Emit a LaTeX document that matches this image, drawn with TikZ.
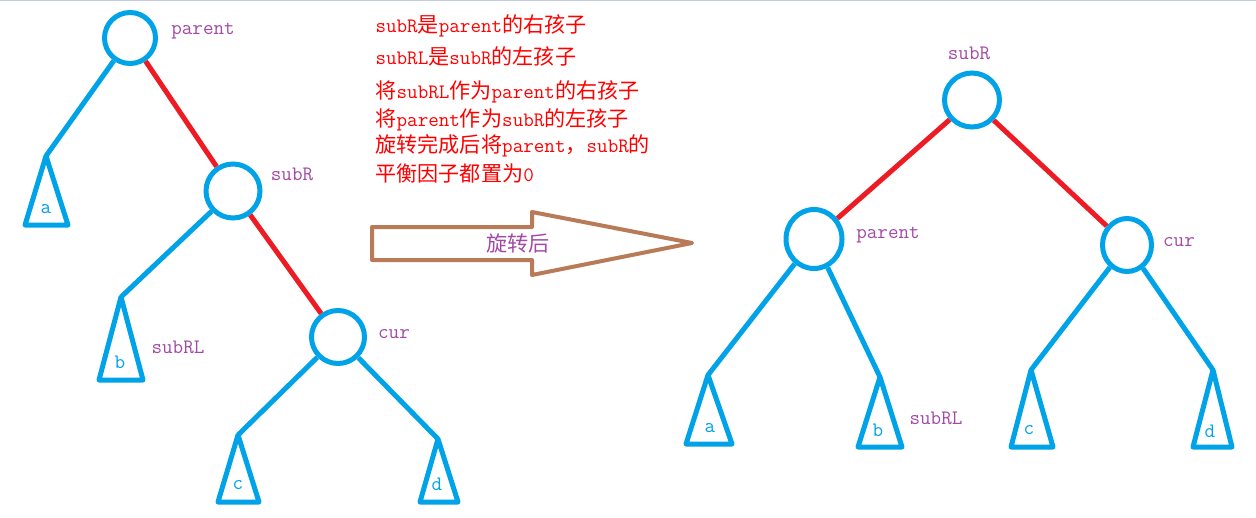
\documentclass[tikz,border=0pt]{standalone}
\usepackage{fontspec}
\newfontfamily\cjk{Noto Sans CJK SC}[Scale=1.03]
\newcommand{\han}[1]{{\cjk #1}}
\usetikzlibrary{shapes.geometric}
\definecolor{paintblue}{RGB}{0,162,232}
\definecolor{paintred}{RGB}{237,28,36}
\definecolor{paintbrown}{RGB}{185,122,87}
\definecolor{paintpurple}{RGB}{163,73,164}
\definecolor{frame}{RGB}{193,205,220}

\begin{document}
\begin{tikzpicture}[x=1pt,y=-1pt,
    font=\ttfamily\fontsize{20.5}{24}\selectfont,
    knot/.style={ellipse,draw=paintblue,line width=5pt,inner sep=0pt,
      minimum width=53pt,minimum height=53pt},
    blueline/.style={draw=paintblue,line width=5pt},
    redline/.style={draw=paintred,line width=5pt},
    tree/.style={draw=paintblue,line width=5pt,line join=round},
    tag/.style={text=paintpurple},
    leaf/.style={text=paintblue},
    note/.style={text=red,anchor=west}]
    \useasboundingbox (0,0) rectangle (1256,517);
    \draw[frame,line width=2pt] (0,0) -- (1256,0);

    % before the rotation
    \node[knot,minimum width=51pt,minimum height=51pt] (P) at (130,38) {};
    \node[knot,minimum width=54pt,minimum height=54pt] (R) at (233,191) {};
    \node[knot] (C) at (338,337) {};
    \coordinate (A) at (46,156);
    \coordinate (B) at (121,297);
    \coordinate (CC) at (238,435);
    \coordinate (D) at (438,439);
    \draw[tree] (A) -- (25,225) -- (68,225) -- cycle;
    \draw[tree] (B) -- (99,380) -- (143,380) -- cycle;
    \draw[tree] (CC) -- (218,502) -- (259,502) -- cycle;
    \draw[tree] (D) -- (420,502) -- (458,502) -- cycle;
    \path (P) edge[blueline] (A);
    \path (P) edge[redline] (R);
    \path (R) edge[blueline] (B);
    \path (R) edge[redline] (C);
    \path (C) edge[blueline] (CC);
    \path (C) edge[blueline] (D);
    \node[tag] (Pt) at (203,31) {parent};
    \node[tag] (Rt) at (292,174) {subR};
    \node[tag] (RLt) at (178,347) {subRL};
    \node[tag] (Ct) at (394,334) {cur};
    \node[leaf] (At) at (46,209) {a};
    \node[leaf] (Bt) at (120,362) {b};
    \node[leaf] (CCt) at (238,485) {c};
    \node[leaf] (Dt) at (437,484) {d};

    % notes
    \node[note] (n1) at (372,26) {subR\han{是}parent\han{的右孩子}};
    \node[note] (n2) at (372,56) {subRL\han{是}subR\han{的左孩子}};
    \node[note] (n3) at (372,92) {\han{将}subRL\han{作为}parent\han{的右孩子}};
    \node[note] (n4) at (372,120) {\han{将}parent\han{作为}subR\han{的左孩子}};
    \node[note] (n5) at (372,146) {\han{旋转完成后将}parent\han{，}subR\han{的}};
    \node[note] (n6) at (372,173) {\han{平衡因子都置为}0};

    % arrow
    \draw[paintbrown,line width=4pt,line join=round]
      (372,227) -- (532,227) -- (532,212) -- (692,243) -- (532,275) -- (532,260) -- (372,260) -- cycle;
    \node[tag] (turn) at (518,243) {\han{旋转后}};

    % after the rotation
    \node[knot,minimum width=55pt,minimum height=54pt] (R2) at (972,100) {};
    \node[knot,minimum width=56pt,minimum height=59pt] (P2) at (814,239) {};
    \node[knot,minimum width=49pt,minimum height=53pt] (C2) at (1127,245) {};
    \coordinate (A2) at (708,375);
    \coordinate (B2) at (880,377);
    \coordinate (CC2) at (1031,370);
    \coordinate (D2) at (1213,370);
    \draw[tree] (A2) -- (686,444) -- (732,444) -- cycle;
    \draw[tree] (B2) -- (858,447) -- (902,447) -- cycle;
    \draw[tree] (CC2) -- (1011,447) -- (1053,447) -- cycle;
    \draw[tree] (D2) -- (1193,447) -- (1232,447) -- cycle;
    \path (R2) edge[redline] (P2);
    \path (R2) edge[redline] (C2);
    \path (P2) edge[blueline] (A2);
    \path (P2) edge[blueline] (B2);
    \path (C2) edge[blueline] (CC2);
    \path (C2) edge[blueline] (D2);
    \node[tag] (R2t) at (969,53) {subR};
    \node[tag] (P2t) at (888,235) {parent};
    \node[tag] (C2t) at (1179,242) {cur};
    \node[tag] (RL2t) at (936,418) {subRL};
    \node[leaf] (A2t) at (710,428) {a};
    \node[leaf] (B2t) at (878,430) {b};
    \node[leaf] (CC2t) at (1029,430) {c};
    \node[leaf] (D2t) at (1210,431) {d};
  \end{tikzpicture}
\end{document}
